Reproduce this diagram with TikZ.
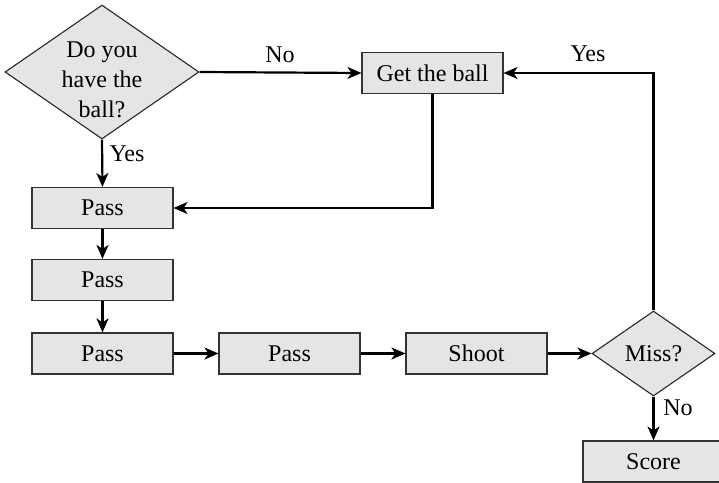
\documentclass[tikz,border=0pt]{standalone}
\usepackage{fontspec}
\setmainfont{Liberation Serif}
\usetikzlibrary{shapes.geometric,arrows.meta}
\begin{document}
\begin{tikzpicture}[x=1pt,y=-1pt,
  font=\fontsize{24}{30}\selectfont,
  box/.style={draw=black!80,line width=1.1pt,fill=black!10,minimum width=141pt,minimum height=41pt,inner sep=0pt},
  dia/.style={diamond,draw=black!85,line width=1.1pt,fill=black!10,inner sep=0pt},
  conn/.style={line width=2.2pt,-{Stealth[length=14pt,width=12pt,inset=4pt]}},
  lbl/.style={inner sep=0pt}]
\useasboundingbox (0,0) rectangle (719,482);
\node[dia,minimum width=194pt,minimum height=134pt] (q1) at (102,72) {};
\node[align=center,inner sep=0pt] (q1t) at (102,80) {Do you\\have the\\ball?};
\node[box] (get) at (432.5,73) {Get the ball};
\node[box] (p1) at (102.5,208) {Pass};
\node[box] (p2) at (102.5,280) {Pass};
\node[box] (p3) at (102.5,353.5) {Pass};
\node[box] (p4) at (289.5,353.5) {Pass};
\node[box] (shoot) at (476.5,353.5) {Shoot};
\node[dia,minimum width=123pt,minimum height=85pt] (miss) at (653.5,353.5) {};
\node[inner sep=0pt] (misst) at (653.5,353.5) {Miss?};
\node[box] (score) at (653.5,461.5) {Score};
\draw[conn] (q1.east) -- (get.west);
\draw[conn] (q1.south) -- (p1.north);
\draw[conn] (get.south) |- (p1.east);
\draw[conn] (p1.south) -- (p2.north);
\draw[conn] (p2.south) -- (p3.north);
\draw[conn] (p3.east) -- (p4.west);
\draw[conn] (p4.east) -- (shoot.west);
\draw[conn] (shoot.east) -- (miss.west);
\draw[conn] (miss.south) -- (score.north);
\draw[conn] (miss.north) |- (get.east);
\node[lbl] (lno1) at (280,55) {No};
\node[lbl] (lyes1) at (127,154) {Yes};
\node[lbl] (lyes2) at (588,54) {Yes};
\node[lbl] (lno2) at (678,408) {No};
\end{tikzpicture}
\end{document}
